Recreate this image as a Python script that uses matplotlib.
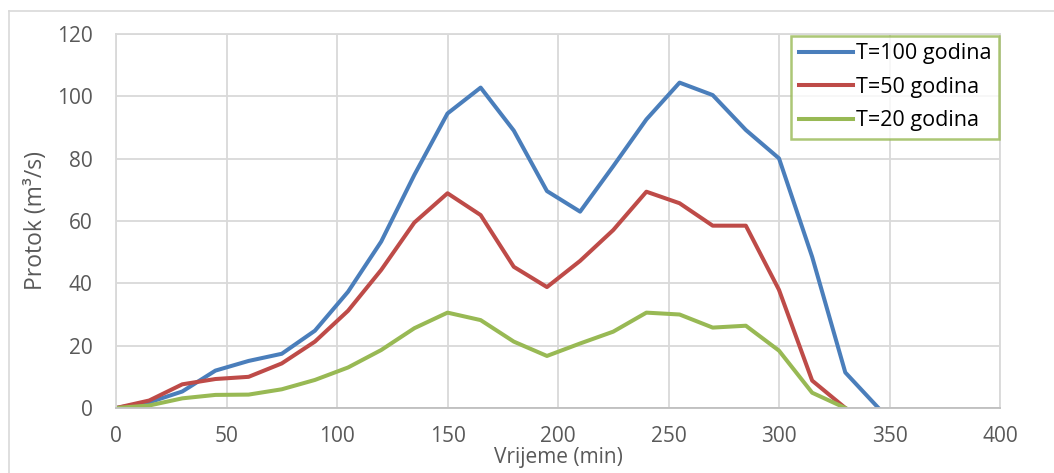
import matplotlib.pyplot as plt
from matplotlib.lines import Line2D

plt.rcParams['font.family'] = ['Open Sans', 'DejaVu Sans']

vrijeme = [0, 15, 30, 45, 60, 75, 90, 105, 120, 135, 150, 165, 180, 195,
           210, 225, 240, 255, 270, 285, 300, 315, 330, 345]
t100 = [0, 1.8, 5.3, 12.0, 15.1, 17.4, 24.8, 37.3, 53.4, 74.8, 94.5, 102.8,
        89.0, 69.6, 63.0, 77.6, 92.6, 104.4, 100.4, 89.2, 80.1, 48.5, 11.4, 0]
t50 = [0, 2.4, 7.6, 9.3, 10.0, 14.3, 21.3, 31.2, 44.3, 59.5, 68.9, 61.9,
       45.3, 38.8, 47.2, 57.1, 69.4, 65.7, 58.5, 58.5, 37.9, 8.8, 0]
t20 = [0, 0.8, 3.1, 4.2, 4.3, 6.0, 9.0, 13.0, 18.6, 25.6, 30.6, 28.2,
       21.3, 16.7, 20.7, 24.5, 30.6, 30.0, 25.8, 26.4, 18.4, 4.9, 0]
labels = ['T=100 godina', 'T=50 godina', 'T=20 godina']

fig = plt.figure(figsize=(10.54, 4.73), dpi=100)
ax = fig.add_axes([116 / 1054, 1 - 408 / 473, 884 / 1054, 374 / 473])

ax.plot(vrijeme, t100, color='#4A7EBB', lw=2.9, label=labels[0])
ax.plot(vrijeme[:len(t50)], t50, color='#BE4B48', lw=2.9, label=labels[1])
ax.plot(vrijeme[:len(t20)], t20, color='#98B954', lw=2.9, label=labels[2])

ax.set_xlim(0, 400)
ax.set_ylim(0, 120)
ax.set_xticks(range(0, 401, 50))
ax.set_yticks(range(0, 121, 20))
ax.grid(True, color='#D9D9D9', lw=1.3)
ax.set_axisbelow(True)
for s in ax.spines.values():
    s.set_color('#D9D9D9')
    s.set_linewidth(1.3)
ax.spines['bottom'].set_color('#BFBFBF')
ax.tick_params(length=0, labelsize=15, colors='#595959')
ax.tick_params(axis='y', pad=17)
ax.tick_params(axis='x', pad=13)
ax.set_xlabel('Vrijeme (min)', fontsize=15, color='#595959', labelpad=0)
ax.set_ylabel('Protok (m³/s)', fontsize=16.5, color='#595959', labelpad=6)

leg = ax.legend(loc='upper right', bbox_to_anchor=(0.999, 0.995), fontsize=15.5,
                frameon=True, fancybox=False, handlelength=2.5,
                handletextpad=0.15, borderpad=0.35, labelspacing=0.58,
                borderaxespad=0)
leg.get_frame().set_edgecolor('#98B954')
leg.get_frame().set_linewidth(1.8)

# outer chart border (top and left)
fig.add_artist(Line2D([9 / 1054, 1], [1 - 11 / 473, 1 - 11 / 473],
                      color='#D9D9D9', lw=1.2))
fig.add_artist(Line2D([9 / 1054, 9 / 1054], [0, 1 - 11 / 473],
                      color='#D9D9D9', lw=1.2))

fig.savefig('out.png', dpi=100)
